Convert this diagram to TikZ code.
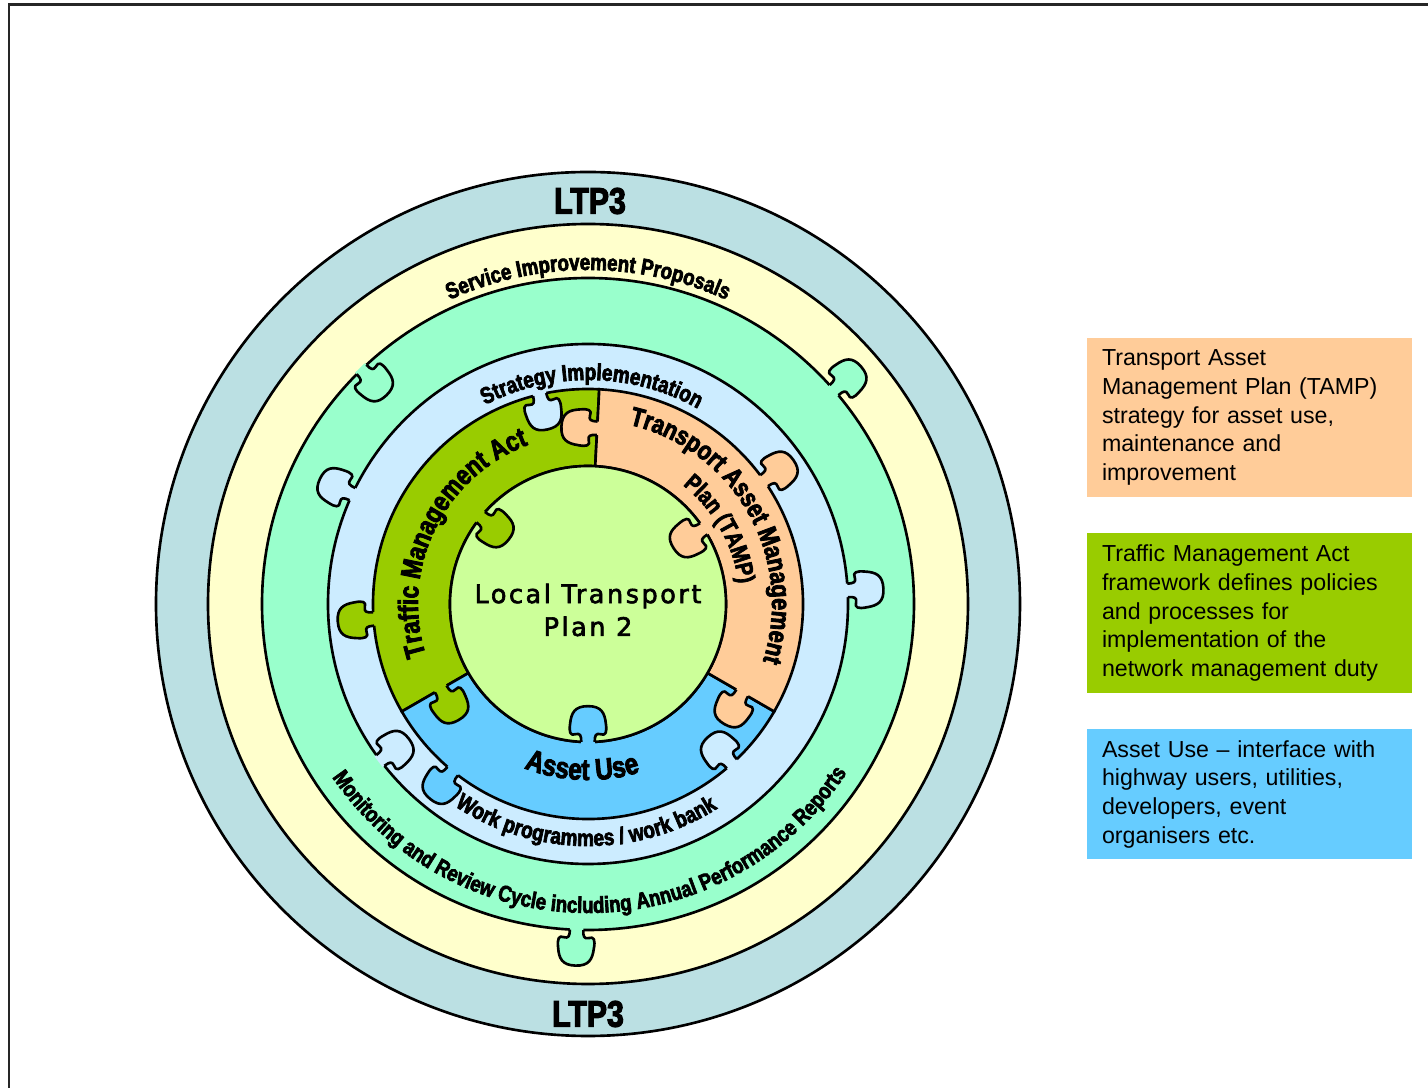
\documentclass[tikz,border=0pt]{standalone}
\usepackage{fontspec}
\setmainfont{Liberation Sans}
\newfontfamily\ringfont{Liberation Sans}[FakeStretch=0.82, FakeBold=3, BoldFeatures={FakeBold=3}]
\newfontfamily\ltpfont{DejaVu Sans}[LetterSpace=10, FakeBold=2.5]
\usepackage{tikz}
\usetikzlibrary{positioning,decorations.text}
\definecolor{ltpring}{HTML}{BBE0E3}
\definecolor{sipring}{HTML}{FFFFCC}
\definecolor{monring}{HTML}{99FFCC}
\definecolor{strring}{HTML}{CCECFF}
\definecolor{tmagreen}{HTML}{99CC00}
\definecolor{useblue}{HTML}{66CCFF}
\definecolor{tamppeach}{HTML}{FFCC99}
\definecolor{ltpcore}{HTML}{CCFF99}
\tikzstyle{ring} = [draw=black, line width=1.5pt]
\tikzstyle{infobox} = [rectangle, text width=5.9cm, inner xsep=0.3cm, inner ysep=0pt, align=left, font=\fontsize{13.2pt}{16.4pt}\selectfont]
\tikzstyle{curvetext} = [decorate, decoration={text along path, text align=center}]
\newcommand{\ringtext}[1]{\ringfont\bfseries\fontsize{#1}{#1}\selectfont}
\newcommand{\puzknob}[3]{%
  \begin{scope}[shift={(#1)}, rotate=#2, scale=1.12]
    \fill[#3] (-2,-6) rectangle (2,6);
    \filldraw[fill=#3, ring, line join=round] (0,-6) .. controls (6,-6) and (8,-7) .. (7,-11)
      .. controls (5,-16) and (9,-17) .. (16,-16)
      .. controls (26,-15) and (32,-12) .. (32,0)
      .. controls (32,12) and (26,15) .. (16,16)
      .. controls (9,17) and (5,16) .. (7,11)
      .. controls (8,7) and (6,6) .. (0,6);
  \end{scope}}
\begin{document}
\begin{tikzpicture}[x=0.02cm, y=0.02cm, node distance=0.71cm]
			\useasboundingbox (-588,-484) rectangle (840,604);
			\draw[black!85, line width=1.2pt] (-579,-484) -- (-579,599.5) -- (840,599.5);

			\filldraw[ring, fill=ltpring] (0,0) circle[radius=432];
			\filldraw[ring, fill=sipring] (0,0) circle[radius=380];
			\filldraw[ring, fill=monring] (0,0) circle[radius=326];
			\filldraw[ring, fill=strring] (0,0) circle[radius=260];

			\filldraw[ring, fill=tmagreen] (87:215) arc[start angle=87, end angle=210, radius=215] -- (210:138) arc[start angle=210, end angle=87, radius=138] -- cycle;
			\filldraw[ring, fill=useblue] (210:215) arc[start angle=210, end angle=330, radius=215] -- (330:138) arc[start angle=330, end angle=210, radius=138] -- cycle;
			\filldraw[ring, fill=tamppeach] (330:215) arc[start angle=330, end angle=447, radius=215] -- (87:138) arc[start angle=447, end angle=330, radius=138] -- cycle;
			\filldraw[ring, fill=ltpcore] (0,0) circle[radius=138];

			\puzknob{134:326}{314}{monring}
			\puzknob{41:326}{41}{monring}
			\puzknob{268:326}{268}{monring}
			\puzknob{155:260}{155}{strring}
			\puzknob{3:260}{3}{strring}
			\puzknob{217:260}{37}{strring}
			\puzknob{103:215}{283}{strring}
			\puzknob{184:215}{184}{tmagreen}
			\puzknob{35:215}{35}{tamppeach}
			\puzknob{312:215}{132}{strring}
			\puzknob{231:215}{231}{useblue}
			\puzknob{141:138}{321}{tmagreen}
			\puzknob{270:138}{90}{useblue}
			\puzknob{33:138}{213}{tamppeach}
			\puzknob{87:176}{177}{tamppeach}
			\puzknob{210:170}{300}{tmagreen}
			\puzknob{330:178}{240}{tamppeach}

			\node (ltptop) at (2,403) {\ringtext{21pt}LTP3};
			\node (ltpbot) at (0,-410) {\ringtext{21pt}LTP3};
			\node (ltp2) [align=center, font=\ltpfont\fontsize{14.5pt}{18.7pt}\selectfont] at (0,-6) {Local Transport\\Plan 2};

			\path[curvetext, decoration={text={|\ringtext{13pt}|Service Improvement Proposals}}] (180:334) arc[start angle=180, end angle=0, radius=334];
			\path[curvetext, decoration={text={|\ringtext{13.2pt}|Strategy Implementation}}] (179:224) arc[start angle=179, end angle=-1, radius=224];
			\path[curvetext, decoration={text={|\ringtext{15.8pt}|Traffic Management Act}}] (244:170) arc[start angle=244, end angle=64, radius=170];
			\path[curvetext, decoration={text={|\ringtext{15.1pt}|Transport Asset Management}}] (119.5:184) arc[start angle=119.5, end angle=-60.5, radius=184];
			\path[curvetext, decoration={text={|\ringtext{13.7pt}|Plan (TAMP)}}] (119.5:152) arc[start angle=119.5, end angle=-60.5, radius=152];
			\path[curvetext, decoration={text={|\ringtext{17pt}|Asset Use}}] (178:176) arc[start angle=178, end angle=358, radius=176];
			\path[curvetext, decoration={text={|\ringtext{13.2pt}|Work programmes / work bank}}] (179.5:242) arc[start angle=179.5, end angle=359.5, radius=242];
			\path[curvetext, decoration={text={|\ringtext{12.9pt}|Monitoring and Review Cycle including Annual Performance Reports}}] (180.5:309) arc[start angle=180.5, end angle=360.5, radius=309];

			\node (tampbox) [infobox, fill=tamppeach, minimum height=3.18cm] at (661.5,186.5) {Transport Asset\\Management Plan (TAMP)\\strategy for asset use,\\maintenance and\\improvement};
			\node (tmabox) [infobox, fill=tmagreen, minimum height=3.2cm, below=of tampbox] {Traffic Management Act\\framework defines policies\\and processes for\\implementation of the\\network management duty};
			\node (usebox) [infobox, fill=useblue, minimum height=2.6cm, below=of tmabox] {Asset Use -- interface with\\highway users, utilities,\\developers, event\\organisers etc.};
\end{tikzpicture}
\end{document}
